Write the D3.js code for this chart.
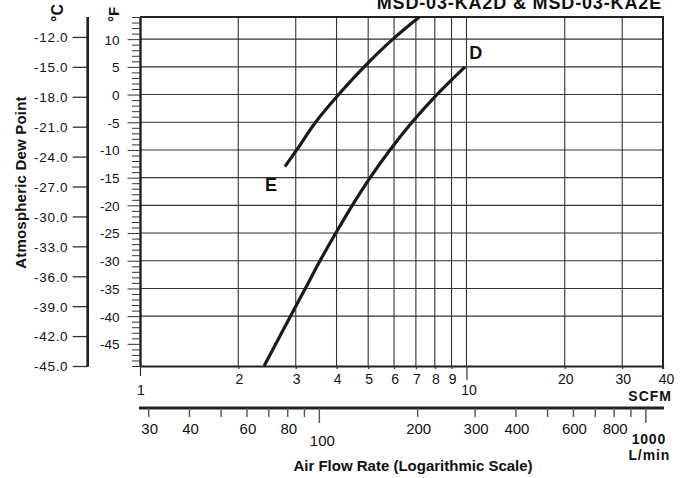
<!DOCTYPE html>
<html><head><meta charset="utf-8">
<script src="https://cdn.jsdelivr.net/npm/d3@7"></script>
<style>
body{margin:0;background:#fff}
svg{display:block}
text{font-family:"Liberation Sans",Arial,Helvetica,sans-serif;fill:#111}
</style>
</head><body>
<svg id="chart" width="689" height="478"></svg>
<script>
// ---- data ----
const chartTitle = "MSD-03-KA2D & MSD-03-KA2E";
const scfmTicks = [1,2,3,4,5,6,7,8,9,10,20,30,40];
const scfmGrid = [2,3,4,5,6,7,8,9,10,20,30];
const lminTicks = [30,40,50,60,70,80,90,100,200,300,400,500,600,700,800,900,1000];
const lminLabels = [30,40,60,80,100,200,300,400,600,800,1000];
const fLabels = [-45,-40,-35,-30,-25,-20,-15,-10,-5,0,5,10];
const fGrid = [-40,-35,-30,-25,-20,-15,-10,-5,0,5,10];
const cLabels = [-12,-15,-18,-21,-24,-27,-30,-33,-36,-39,-42,-45];
const curveD_scfm = [2.40,2.89,3.21,3.56,3.98,4.47,5.07,5.83,6.81,8.12,9.90];
const curveD_dewF = [-49,-40,-35,-30,-25,-20,-15,-10,-5,0,5];
const curveE_scfm = [2.78,3.02,3.45,4.06,4.86,5.95,7.17];
const curveE_dewF = [-13,-10,-5,0,5,10,14];
const LPM_PER_SCFM = 28.317;

// ---- layout ----
const L = 140, R = 663, T = 17, B = 366;
const svg = d3.select("#chart");
const x = d3.scaleLog().domain([1,40]).range([L,R]);
const xL = d3.scaleLog().domain([LPM_PER_SCFM, 40*LPM_PER_SCFM]).range([L,R]);
const y = d3.scaleLinear().domain([-49,14]).range([B,T]);
const yC = d3.scaleLinear().domain([(-49-32)*5/9,(14-32)*5/9]).range([B,T]);

// grid
const grid = svg.append("g");
grid.selectAll("line.v").data(scfmGrid).join("line")
  .attr("x1",d=>x(d)).attr("x2",d=>x(d)).attr("y1",T).attr("y2",B)
  .attr("stroke","#333").attr("stroke-width",1.1);
grid.selectAll("line.h").data(fGrid).join("line")
  .attr("x1",L).attr("x2",R).attr("y1",d=>y(d)).attr("y2",d=>y(d))
  .attr("stroke","#333").attr("stroke-width",1.1);

// frame top / right
svg.append("line").attr("x1",L).attr("x2",R+1).attr("y1",T).attr("y2",T).attr("stroke","#222").attr("stroke-width",2);
svg.append("line").attr("x1",R).attr("x2",R).attr("y1",T).attr("y2",B+3).attr("stroke","#222").attr("stroke-width",2);

// °F axis
const fAxis = svg.append("g").attr("transform",`translate(${L},0)`)
  .call(d3.axisLeft(y).tickValues(d3.range(-49,15)).tickSize(8).tickSizeOuter(0)
    .tickFormat(d=> fLabels.includes(d) ? String(d) : ""));
fAxis.select(".domain").attr("stroke","#222").attr("stroke-width",2.4);
fAxis.selectAll(".tick line").attr("stroke","#333").attr("stroke-width",1)
  .attr("x2",d=> fLabels.includes(d) ? -12.5 : -8);
fAxis.selectAll(".tick text").attr("x",-20.5).attr("dy","0.36em")
  .style("font-size","13.5px").attr("fill","#111");

// °C axis
const CX = 87.7;
const cAxis = svg.append("g").attr("transform",`translate(${CX},0)`)
  .call(d3.axisLeft(yC).tickValues(cLabels).tickSize(15).tickSizeOuter(0)
    .tickFormat(d=>d.toFixed(1)));
cAxis.select(".domain").remove();
svg.append("line").attr("x1",CX).attr("x2",CX).attr("y1",T).attr("y2",B+0.7).attr("stroke","#222").attr("stroke-width",2.7);
cAxis.selectAll(".tick line").attr("stroke","#333").attr("stroke-width",1.3);
cAxis.selectAll(".tick text").attr("x",-19.4).attr("dy","0.36em")
  .style("font-size","13.5px").style("letter-spacing","0.7px").attr("fill","#111");

// unit labels
svg.append("text").attr("transform","translate(63,22) rotate(-90)")
  .style("font-size","16px").style("font-weight","bold").text("°C");
svg.append("text").attr("transform","translate(119,22) rotate(-90)")
  .style("font-size","15px").style("font-weight","bold").text("°F");

// y title
svg.append("text").attr("transform","translate(26,182.5) rotate(-90)")
  .attr("text-anchor","middle").style("font-size","15px").style("font-weight","bold")
  .style("letter-spacing","0.2px").text("Atmospheric Dew Point");

// SCFM axis
const sAxis = svg.append("g").attr("transform",`translate(0,${B})`)
  .call(d3.axisBottom(x).tickValues(scfmTicks).tickSize(3).tickSizeOuter(0).tickFormat(d=>String(d)));
sAxis.select(".domain").attr("stroke","#222").attr("stroke-width",2.2);
sAxis.selectAll(".tick line").attr("stroke","#333").attr("stroke-width",1.2)
  .attr("y2",d=> d===1 ? 10 : d===10 ? 14 : 3);
sAxis.selectAll(".tick text").attr("dy",null)
  .attr("y",d=> (d===1||d===10) ? 28.5 : 18)
  .attr("x",d=> d===10 ? 2 : d===40 ? 3 : 0.5)
  .style("font-size","14px").attr("fill","#111");
svg.append("text").attr("x",672).attr("y",401).attr("text-anchor","end")
  .style("font-size","14px").style("font-weight","bold").style("letter-spacing","1px").text("SCFM");

// L/min axis
const LY = 408;
svg.append("line").attr("x1",139).attr("x2",664).attr("y1",LY).attr("y2",LY).attr("stroke","#222").attr("stroke-width",3);
const lAxis = svg.append("g").attr("transform",`translate(0,${LY})`)
  .call(d3.axisBottom(xL).tickValues(lminTicks).tickSize(9).tickSizeOuter(0)
    .tickFormat(d=> (lminLabels.includes(d) && d!==1000) ? String(d) : ""));
lAxis.select(".domain").remove();
lAxis.selectAll(".tick line").attr("stroke","#555").attr("stroke-width",1.4)
  .attr("y2",d=> (d===100||d===1000) ? 15 : 9);
lAxis.selectAll(".tick text").attr("dy",null)
  .attr("y",d=> d===100 ? 38 : 26).attr("x",d=> d===100 ? 3 : 1)
  .style("font-size","15px").attr("fill","#111");
svg.append("text").attr("x",xL(1000)+3.5).attr("y",444).attr("text-anchor","middle")
  .style("font-size","14px").style("font-weight","bold").style("letter-spacing","0.8px").text("1000");
svg.append("text").attr("x",xL(1000)+4).attr("y",460).attr("text-anchor","middle")
  .style("font-size","14px").style("font-weight","bold").style("letter-spacing","0.9px").text("L/min");

// x title
svg.append("text").attr("x",413).attr("y",471).attr("text-anchor","middle")
  .style("font-size","15px").style("font-weight","bold").text("Air Flow Rate (Logarithmic Scale)");

// title
svg.append("text").attr("x",662).attr("y",9).attr("text-anchor","end")
  .style("font-size","18px").style("font-weight","bold").style("letter-spacing","0.85px").text(chartTitle);

// curves
const line = d3.line().x(d=>x(d[0])).y(d=>y(d[1])).curve(d3.curveCatmullRom.alpha(0.5));
const dPts = d3.zip(curveD_scfm, curveD_dewF);
const ePts = d3.zip(curveE_scfm, curveE_dewF);
svg.append("path").attr("d",line(dPts)).attr("fill","none").attr("stroke","#1a1a1a").attr("stroke-width",3.2);
svg.append("path").attr("d",line(ePts)).attr("fill","none").attr("stroke","#1a1a1a").attr("stroke-width",3.2);

// curve labels
svg.append("text").attr("x",265).attr("y",191).style("font-size","18px").style("font-weight","bold").text("E");
svg.append("text").attr("x",469.3).attr("y",59.3).style("font-size","18px").style("font-weight","bold").text("D");
</script>
</body></html>
